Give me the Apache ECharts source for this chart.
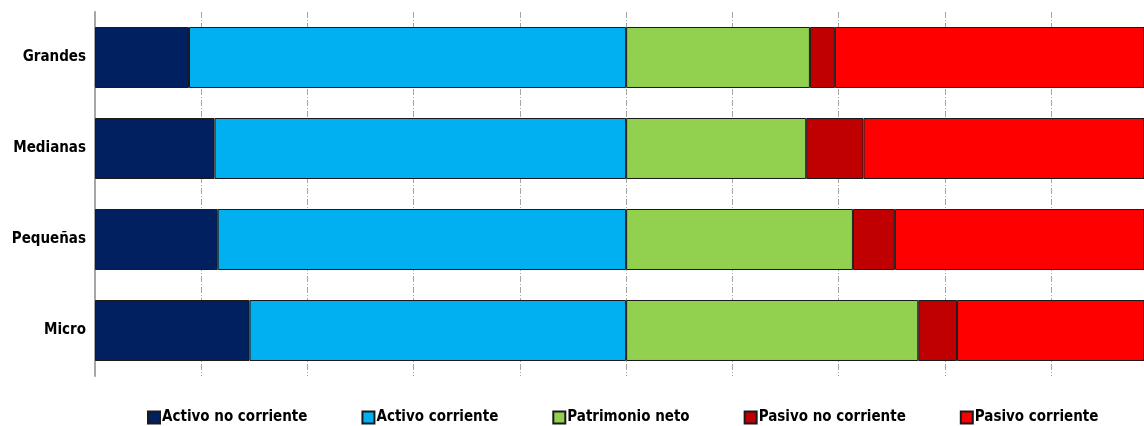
<!DOCTYPE html>
<html>
<head>
<meta charset="utf-8">
<script src="https://cdn.jsdelivr.net/npm/echarts@6/dist/echarts.min.js"></script>
<style>
  html, body { margin: 0; padding: 0; background: #fff; }
  #chart { width: 1144px; height: 426px; }
</style>
</head>
<body>
<div id="chart"></div>
<script>
// categorias (de arriba a abajo)
var categorias = ["Grandes", "Medianas", "Pequeñas", "Micro"];

// % sobre activo (0-100) y sobre pasivo+patrimonio (100-200)
var activoNoCorriente = [17.7, 22.5, 23.1, 29.1];
var activoCorriente = [82.3, 77.5, 76.9, 70.9];
var patrimonioNeto = [34.6, 33.9, 42.7, 55.0];
var pasivoNoCorriente = [4.7, 10.8, 7.9, 7.3];
var pasivoCorriente = [60.7, 55.3, 49.4, 37.7];

var nombres = ["Activo no corriente", "Activo corriente", "Patrimonio neto", "Pasivo no corriente", "Pasivo corriente"];
var colores = ["#002060", "#00B0F0", "#92D050", "#C00000", "#FF0000"];
var valores = [activoNoCorriente, activoCorriente, patrimonioNeto, pasivoNoCorriente, pasivoCorriente];

var fuente = "'Liberation Sans Narrow', 'DejaVu Sans Condensed', 'Roboto', sans-serif";

var series = nombres.map(function (n, i) {
  return {
    name: n,
    type: "bar",
    stack: "total",
    barCategoryGap: "33%",
    data: valores[i],
    itemStyle: {
      color: colores[i],
      borderColor: "#1a1a1a",
      borderWidth: 1
    },
    emphasis: { disabled: true }
  };
});

var option = {
  animation: false,
  textStyle: { fontFamily: fuente },
  grid: {
    left: 95,
    top: 12,
    height: 364,
    right: 0,
    containLabel: false
  },
  legend: {
    left: 142,
    top: 405,
    width: 995,
    itemWidth: 12,
    itemHeight: 12,
    itemGap: 54,
    icon: "rect",
    textStyle: {
      fontFamily: fuente,
      fontWeight: "bold",
      fontSize: 15,
      color: "#000",
      padding: [0, 0, 0, -3]
    },
    data: nombres
  },
  xAxis: {
    type: "value",
    min: 0,
    max: 197.5, // el grafico original esta recortado por la derecha
    interval: 20,
    axisLabel: { show: false },
    axisTick: { show: false },
    axisLine: { show: false },
    splitLine: {
      show: true,
      showMaxLine: false,
      lineStyle: { color: "#a6a6a6", type: [6, 2, 1, 2], width: 1 }
    }
  },
  yAxis: {
    type: "category",
    inverse: true,
    data: categorias,
    axisTick: { show: false },
    axisLine: { show: true, lineStyle: { color: "#a6a6a6", width: 2 } },
    axisLabel: {
      margin: 9,
      fontFamily: fuente,
      fontWeight: "bold",
      fontSize: 15,
      color: "#000"
    }
  },
  series: series
};

var myChart = echarts.init(document.getElementById("chart"));
myChart.setOption(option);
window.addEventListener("resize", function () {
  myChart.resize();
});
</script>
</body>
</html>
